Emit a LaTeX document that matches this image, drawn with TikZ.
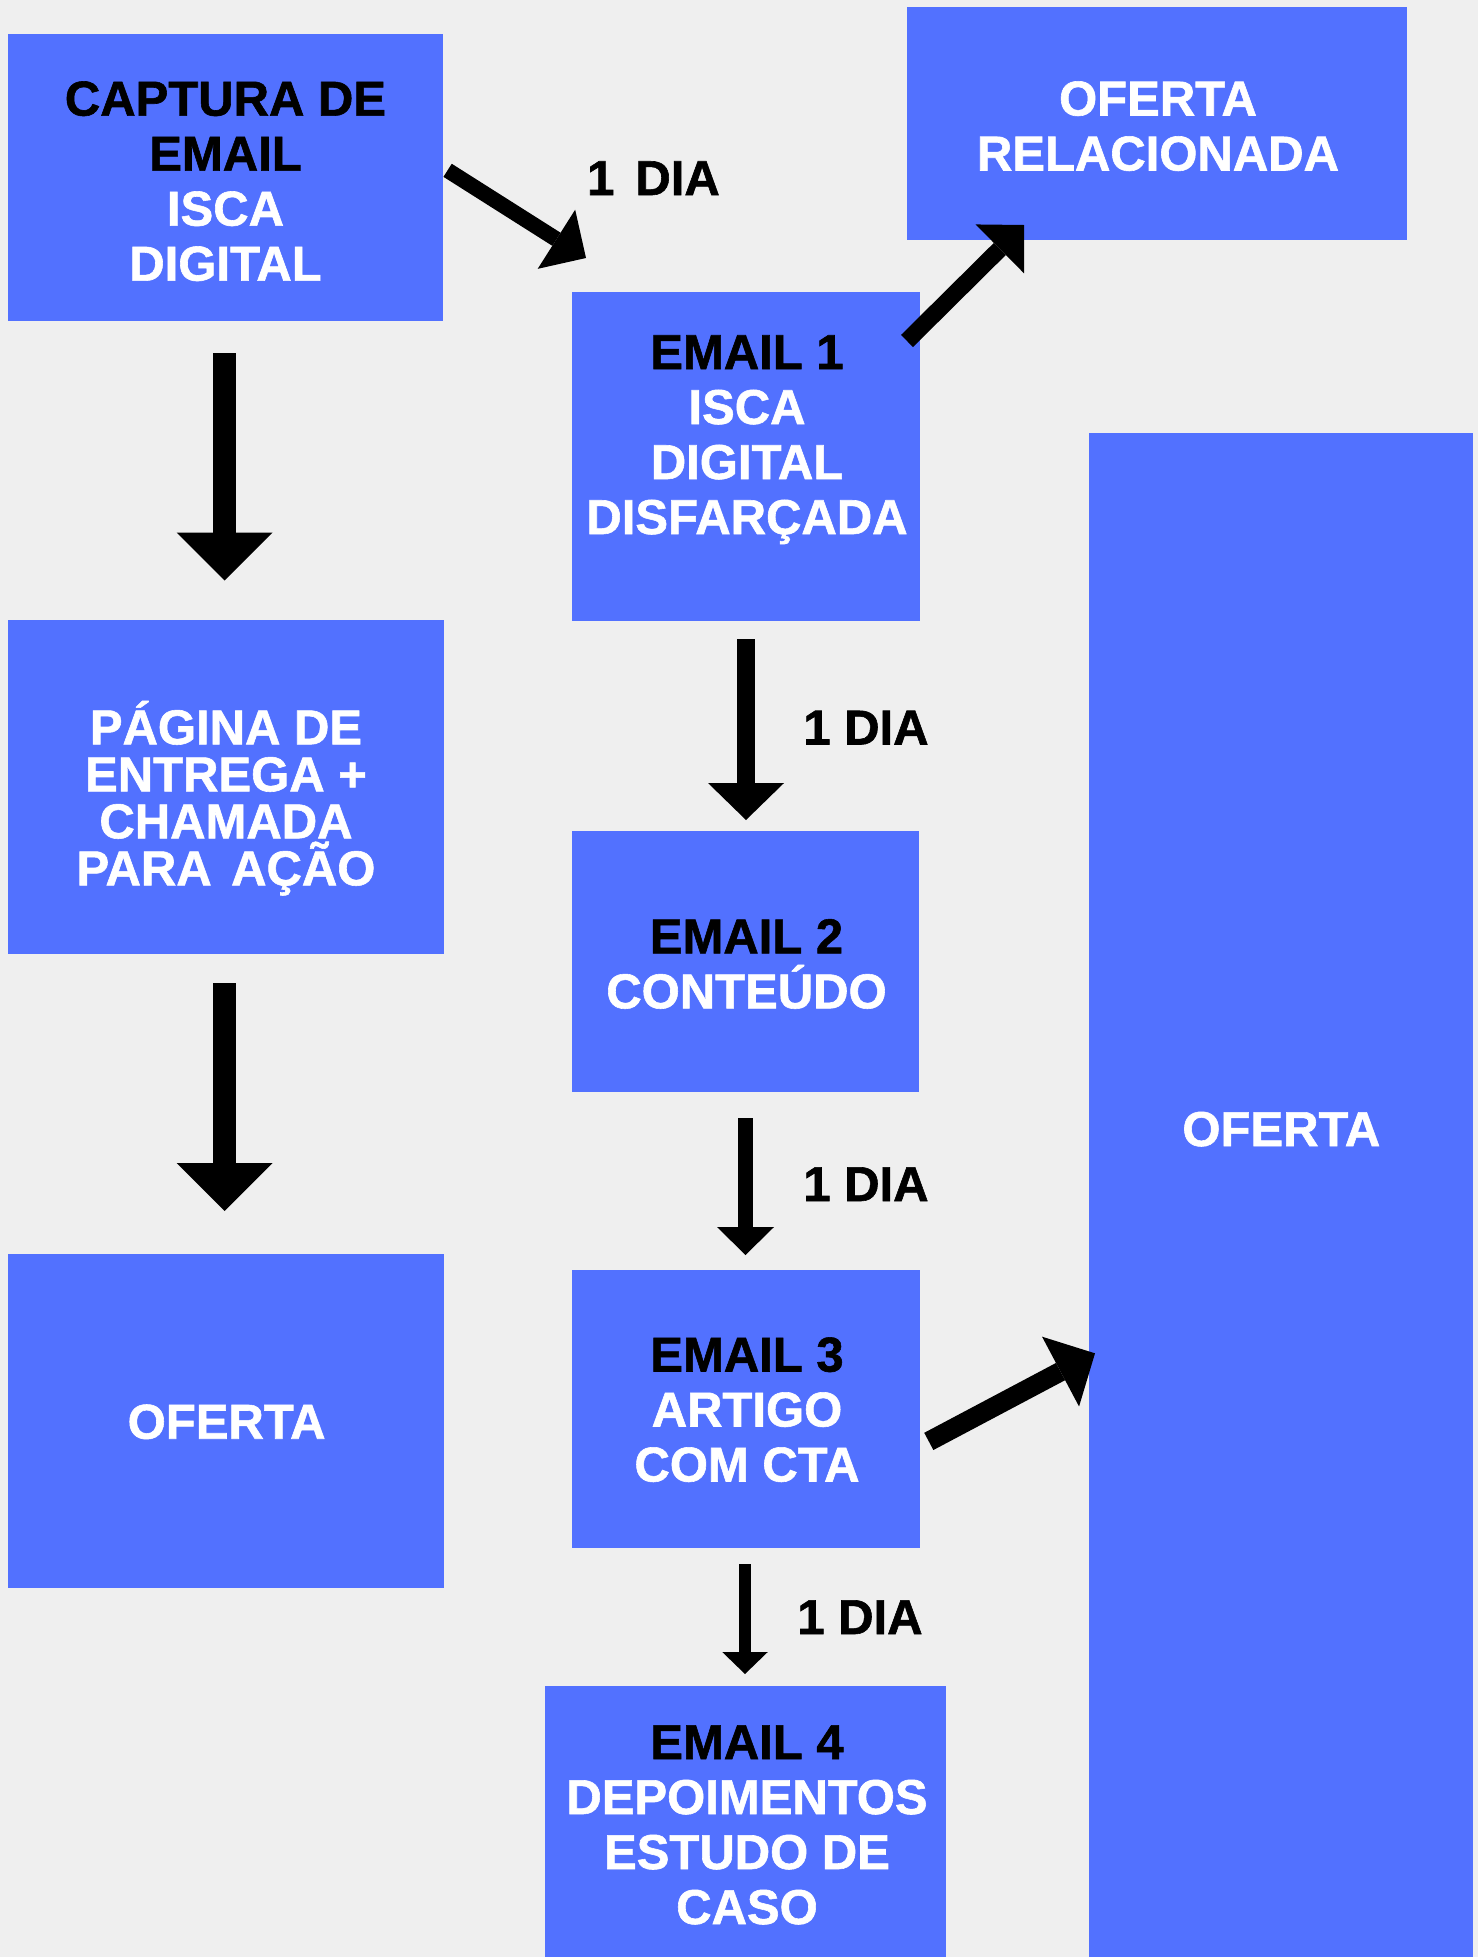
\documentclass[tikz,border=0pt]{standalone}
\usepackage{fontspec}
\setmainfont{Liberation Sans}[BoldFeatures={FakeBold=1.2}]
\usetikzlibrary{arrows.meta}
\definecolor{boxblue}{HTML}{5271FF}
\definecolor{bggray}{HTML}{EFEFEF}
\newcommand\linestack[2]{\vtop{\baselineskip=#1\relax\lineskiplimit=-1000pt\lineskip=0pt\halign{\hfil##\hfil\cr#2\crcr}}}
\newcommand\bk[1]{\textcolor{black}{#1}}
\begin{document}
\begin{tikzpicture}[x=1pt,y=-1pt,
  box/.style={fill=boxblue, draw=none, inner sep=0pt, outer sep=0pt, rectangle},
  txt/.style={text=white, font=\fontsize{49pt}{55pt}\selectfont\bfseries, inner sep=0pt, anchor=base},
  lbl/.style={text=black, font=\fontsize{49pt}{55pt}\selectfont\bfseries, inner sep=0pt, anchor=base},
  fat/.style n args={3}{line width=#1, -{Triangle[length=#2, width=#3, line width=0pt]}}]
\useasboundingbox (0,0) rectangle (1478,1957);
\fill[bggray] (0,0) rectangle (1478,1957);

% boxes
\node[box, minimum width=435pt, minimum height=287pt] (capt) at (225.5,177.5) {};
\node[box, minimum width=500pt, minimum height=233pt] (ofrel) at (1157,123.5) {};
\node[box, minimum width=348pt, minimum height=328.5pt] (em1) at (746,456.25) {};
\node[box, minimum width=436pt, minimum height=334pt] (pag) at (226,787) {};
\node[box, minimum width=347pt, minimum height=261pt] (em2) at (745.5,961.5) {};
\node[box, minimum width=384pt, minimum height=1524pt] (ofbig) at (1281,1195) {};
\node[box, minimum width=436pt, minimum height=334pt] (ofleft) at (226,1421) {};
\node[box, minimum width=348pt, minimum height=278pt] (em3) at (746,1409) {};
\node[box, minimum width=401pt, minimum height=271pt] (em4) at (745.5,1821.5) {};

% texts
\node[txt] (captT) at (225.5,115.6) {\linestack{55pt}{\bk{CAPTURA DE}\cr \bk{EMAIL}\cr ISCA\cr DIGITAL}};
\node[txt] (ofrelT) at (1158,115.5) {\linestack{55pt}{OFERTA\cr RELACIONADA}};
\node[txt] (em1T) at (747,369) {\linestack{55pt}{\bk{EMAIL 1}\cr ISCA\cr DIGITAL\cr DISFARÇADA}};
\node[txt] (pagT) at (226,744.3) {\linestack{47pt}{PÁGINA DE\cr ENTREGA +\cr CHAMADA\cr PARA\hspace{19.5pt}AÇÃO}};
\node[txt] (em2T) at (746.5,953.3) {\linestack{55pt}{\bk{EMAIL 2}\cr CONTEÚDO}};
\node[txt] (ofbigT) at (1281.3,1146) {OFERTA};
\node[txt] (ofleftT) at (226.6,1438.7) {OFERTA};
\node[txt] (em3T) at (747,1371.5) {\linestack{55pt}{\bk{EMAIL 3}\cr ARTIGO\cr COM CTA}};
\node[txt] (em4T) at (747,1759) {\linestack{55pt}{\bk{EMAIL 4}\cr DEPOIMENTOS\cr ESTUDO DE\cr CASO}};

% day labels
\node[lbl] (dia1) at (653.5,195) {1\hspace{21pt}DIA};
\node[lbl] (dia2) at (866,744.5) {1 DIA};
\node[lbl] (dia3) at (866,1201) {1 DIA};
\node[lbl] (dia4) at (860,1634) {1 DIA};

% arrow end points
\coordinate (a1s) at (447.6,170.3);
\coordinate (a1e) at (586,258);
\coordinate (a2s) at (907,341);
\coordinate (a2e) at (1024,225);
\coordinate (a3s) at (928.8,1441.4);
\coordinate (a3e) at (1095,1353.3);
\coordinate (d1s) at (224.6,353);
\coordinate (d1e) at (224.6,580.5);
\coordinate (d2s) at (224.6,983);
\coordinate (d2e) at (224.6,1211);
\coordinate (d3s) at (746,639);
\coordinate (d3e) at (746,820);
\coordinate (d4s) at (745.5,1118);
\coordinate (d4e) at (745.5,1255);
\coordinate (d5s) at (745,1564);
\coordinate (d5e) at (745,1674);

% arrows
\draw[fat={15.5pt}{35pt}{70pt}] (a1s) -- (a1e);
\draw[fat={17pt}{34pt}{69pt}] (a2s) -- (a2e);
\draw[fat={19.5pt}{39pt}{79pt}] (a3s) -- (a3e);
\draw[fat={23.6pt}{48pt}{96pt}] (d1s) -- (d1e);
\draw[fat={23.6pt}{48pt}{96pt}] (d2s) -- (d2e);
\draw[fat={18.6pt}{37pt}{76pt}] (d3s) -- (d3e);
\draw[fat={14.4pt}{28pt}{57pt}] (d4s) -- (d4e);
\draw[fat={12pt}{22pt}{45.5pt}] (d5s) -- (d5e);
\end{tikzpicture}
\end{document}
